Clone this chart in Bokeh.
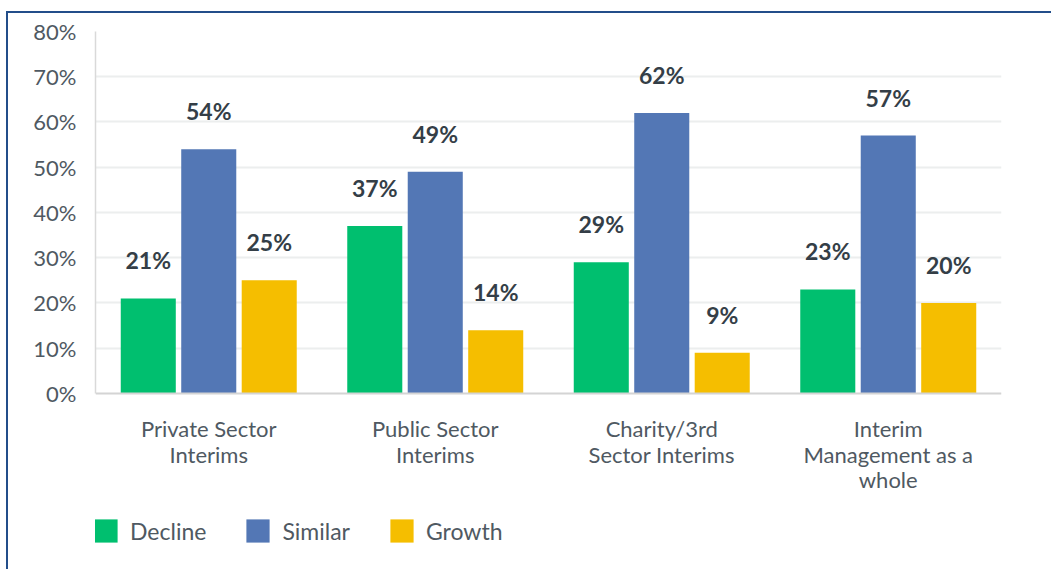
from bokeh.plotting import figure
from bokeh.models import ColumnDataSource, Range1d, FixedTicker, PrintfTickFormatter
from bokeh.transform import dodge
from bokeh.core.properties import value
from bokeh.embed import file_html
from bokeh.resources import INLINE

categories = ["Private Sector\nInterims", "Public Sector\nInterims",
              "Charity/3rd\nSector Interims", "Interim\nManagement as a\nwhole"]
decline = [21, 37, 29, 23]
similar = [54, 49, 62, 57]
growth = [25, 14, 9, 20]
series_names = ["Decline", "Similar", "Growth"]
series_colors = ["#00bf6f", "#5377b5", "#f5be00"]
y_ticks = [0, 10, 20, 30, 40, 50, 60, 70, 80]

FONT = "Lato"
TXT = "#4f5962"

src = ColumnDataSource(dict(
    cat=categories,
    Decline=decline, Similar=similar, Growth=growth,
    Decline_lbl=[f"{v}%" for v in decline],
    Similar_lbl=[f"{v}%" for v in similar],
    Growth_lbl=[f"{v}%" for v in growth],
))

# frame extends below zero so the category labels and legend sit inside it
p = figure(x_range=categories, y_range=Range1d(-38.9, 80),
           width=1045, height=558, output_backend="svg", toolbar_location=None,
           min_border_left=87, min_border_top=18, min_border_right=52,
           min_border_bottom=2)
p.styles = {"border-top": "2px solid #234e8a", "border-left": "2px solid #234e8a",
            "margin-left": "6px", "margin-top": "11px"}
p.outline_line_color = None
p.background_fill_color = "white"
p.border_fill_color = "white"

offsets = [-0.267, 0.0, 0.267]
for name, col, off in zip(series_names, series_colors, offsets):
    p.vbar(x=dodge("cat", off, range=p.x_range), top=name, bottom=0, width=0.243,
           source=src, fill_color=col, line_color=None, legend_label=name)
    p.text(x=dodge("cat", off, range=p.x_range), y=name, text=name + "_lbl",
           source=src, text_align="center", text_baseline="alphabetic",
           y_offset=-38, text_font=value(FONT), text_font_style="bold",
           text_font_size="23px", text_color="#343e47")

# grid
p.xgrid.grid_line_color = None
p.ygrid.ticker = FixedTicker(ticks=y_ticks[1:-1])
p.ygrid.grid_line_color = "#eceeee"
p.ygrid.grid_line_width = 2

# y axis
p.yaxis.ticker = FixedTicker(ticks=y_ticks)
p.yaxis.bounds = (0, 80)
p.yaxis.formatter = PrintfTickFormatter(format="%d%%")
p.yaxis.major_tick_line_color = None
p.yaxis.minor_tick_line_color = None
p.yaxis.axis_line_color = "#d9d9d9"
p.yaxis.axis_line_width = 1.5
p.yaxis.major_label_standoff = 13
p.yaxis.major_label_text_font = FONT
p.yaxis.major_label_text_font_size = "22px"
p.yaxis.major_label_text_color = TXT

# x axis drawn at the zero line
p.xaxis.fixed_location = 0
p.xaxis.major_tick_line_color = None
p.xaxis.minor_tick_line_color = None
p.xaxis.axis_line_color = "#d4d4d4"
p.xaxis.axis_line_width = 2
p.xaxis.major_label_standoff = 16
p.xaxis.major_label_text_font = FONT
p.xaxis.major_label_text_font_size = "22px"
p.xaxis.major_label_text_color = TXT
p.xaxis.major_label_text_line_height = 0.93

# legend
lg = p.legend[0]
lg.orientation = "horizontal"
lg.location = (-4, 24)
lg.label_text_font = FONT
lg.label_text_font_size = "23px"
lg.label_text_color = TXT
lg.glyph_width = 29
lg.glyph_height = 29
lg.spacing = 37
lg.label_standoff = 10
lg.padding = 0
lg.margin = 0
lg.border_line_color = None
lg.background_fill_alpha = 0

open("out.html", "w").write(file_html(p, INLINE))
